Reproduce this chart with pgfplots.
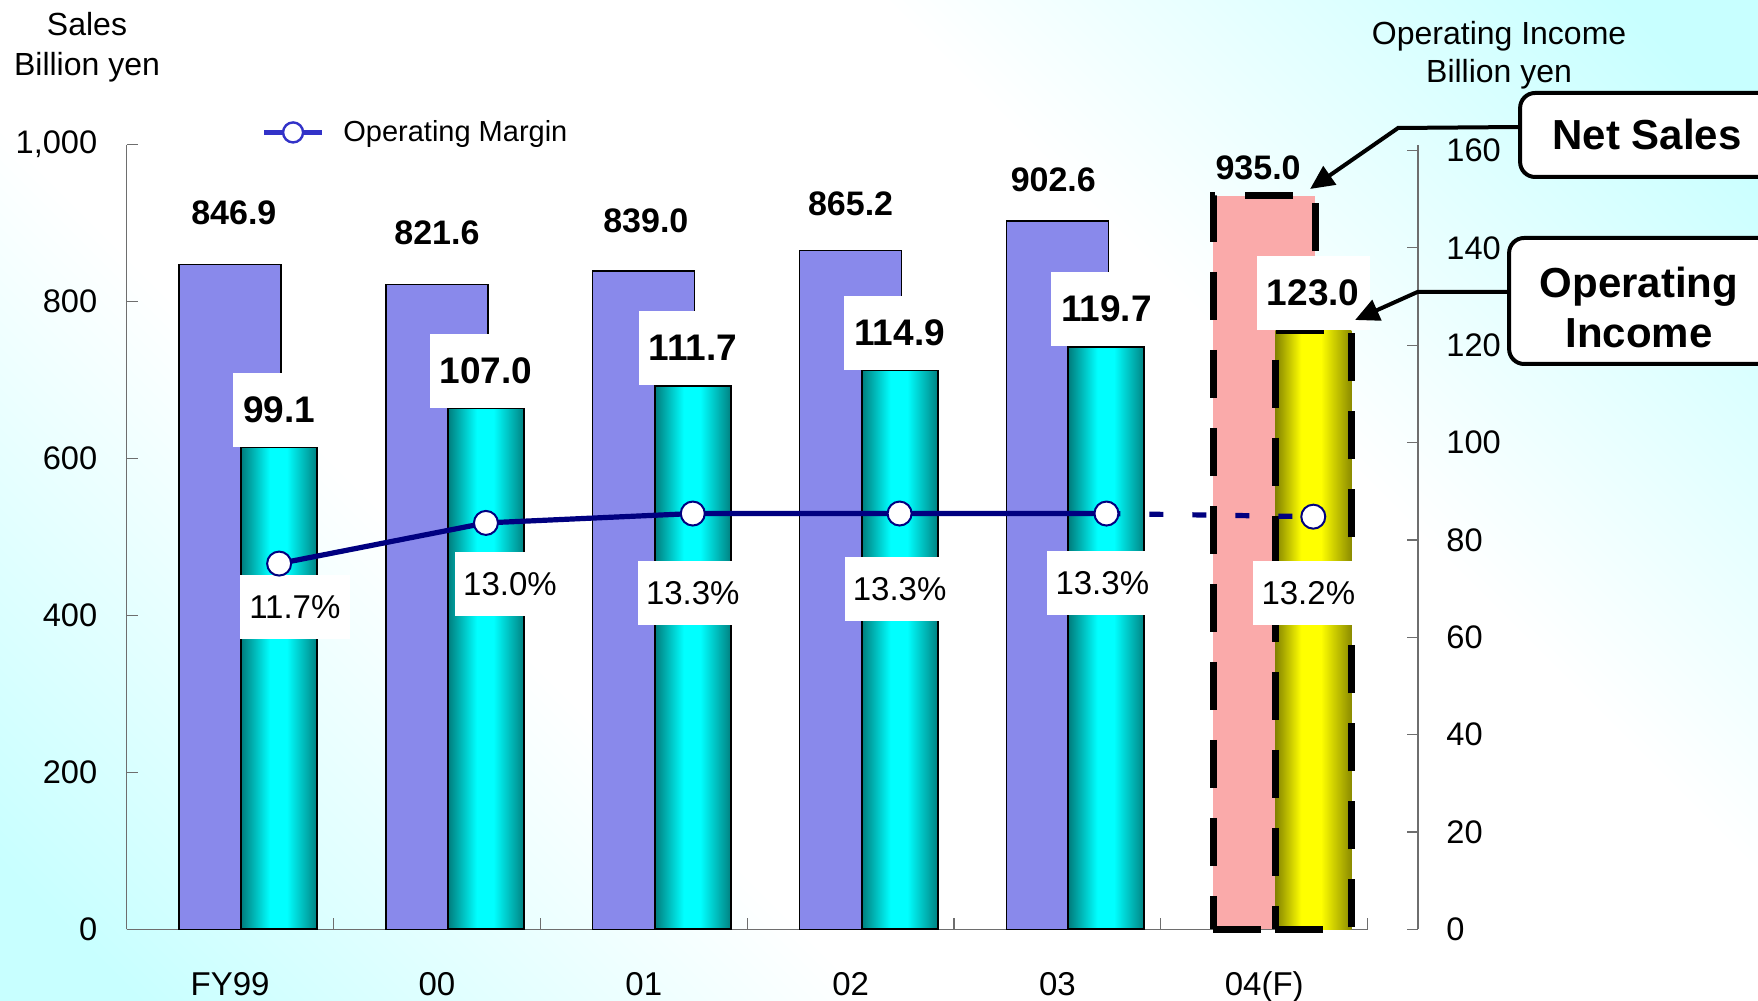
\documentclass[border=0pt]{standalone}
\usepackage{pgfplots}
\pgfplotsset{compat=1.18}
\usepackage{fontspec}
\setmainfont{Liberation Sans}
\usetikzlibrary{arrows.meta}
\definecolor{bgc}{RGB}{200,255,255}
\definecolor{salesfill}{RGB}{137,137,235}
\definecolor{pinkfill}{RGB}{250,170,170}
\definecolor{cyanedgeL}{RGB}{0,125,125}
\definecolor{cyanedgeR}{RGB}{0,130,130}
\definecolor{cyanmid}{RGB}{0,255,255}
\definecolor{yelL}{RGB}{130,130,0}
\definecolor{yelR}{RGB}{140,140,0}
\definecolor{yelmid}{RGB}{255,255,0}
\definecolor{navyline}{RGB}{0,0,128}
\definecolor{legblue}{RGB}{50,50,200}
\definecolor{axisgray}{RGB}{110,110,110}
\pgfdeclareverticalshading{bgshade}{100bp}{color(0bp)=(bgc); color(18bp)=(bgc); color(37bp)=(white); color(63bp)=(white); color(82bp)=(bgc); color(100bp)=(bgc)}
\pgfdeclarehorizontalshading{cyanbar}{100bp}{color(0bp)=(cyanedgeL); color(25bp)=(cyanedgeL); color(44bp)=(cyanmid); color(55bp)=(cyanmid); color(75bp)=(cyanedgeR); color(100bp)=(cyanedgeR)}
\pgfdeclarehorizontalshading{yelbar}{100bp}{color(0bp)=(yelL); color(25bp)=(yelL); color(42bp)=(yelmid); color(55bp)=(yelmid); color(75bp)=(yelR); color(100bp)=(yelR)}
\tikzset{
  saleslab/.style={font=\bfseries\fontsize{17}{20}\selectfont},
  oilab/.style={fill=white, anchor=south, xshift=24.5pt, inner xsep=5pt, inner ysep=0pt, minimum height=37pt, font=\bfseries\fontsize{18.5}{22}\selectfont},
  mlab/.style={fill=white, minimum width=55pt, minimum height=32pt, inner sep=0pt, font=\fontsize{16.5}{19}\selectfont},
}
\pgfplotsset{
  marginleg/.style={legend image code/.code={\draw[mark repeat=2, mark phase=2, ##1, draw=legblue, line width=2.4pt, mark size=5pt,
     mark options={fill=white, draw=legblue, line width=1.2pt, solid}] plot coordinates {(0pt,0pt) (14.35pt,0pt) (28.7pt,0pt)};}},
  oibar/.style={ybar, bar width=38pt, bar shift=24.5pt, draw=black, line width=1pt, shade, shading=cyanbar},
}
\begin{document}
\begin{tikzpicture}
\useasboundingbox (-63.35pt,-35.8pt) rectangle (815.65pt,464.7pt);
\shade[shading=bgshade, shading angle=-45]
  (-63.35pt,-35.8pt) rectangle (815.65pt,464.7pt);

% ---------- Net sales (left axis)
\begin{axis}[
  at={(0pt,0pt)}, anchor=south west,
  width=620.5pt, height=392.4pt, scale only axis,
  xmin=-0.5, xmax=5.5, ymin=0, ymax=1000,
  axis x line*=bottom, axis y line*=left,
  axis line style={draw=axisgray, line width=0.8pt},
  tick align=inside,
  xtick={0,...,5},
  xticklabels={FY99,00,01,02,03,04(F)},
  major x tick style={draw=none},
  minor xtick={-0.5,0.5,...,5.5},
  minor x tick style={draw=axisgray, line width=0.6pt},
  minor tick length=5.5pt,
  major tick length=5.5pt,
  ytick={0,200,...,1000},
  y tick style={draw=axisgray, line width=0.6pt},
  /pgf/number format/assume math mode=true,
  /pgf/number format/1000 sep={,},
  xticklabel style={font=\fontsize{16.5}{19}\selectfont, text height=11.8pt, yshift=-17.6pt},
  yticklabel style={font=\fontsize{16.3}{19}\selectfont, xshift=-11.2pt},
  clip=false,
]
\addplot[ybar, bar width=51pt, fill=salesfill, draw=black, line width=0.7pt]
  coordinates {(0,846.9) (1,821.6) (2,839.0) (3,865.2) (4,902.6)};
\addplot[ybar, bar width=51pt, fill=pinkfill, draw=black, line width=3.5pt, dash pattern=on 24pt off 15pt]
  coordinates {(5,935.0)};
\node[saleslab] at (axis cs:0.018,912.9) {846.9};
\node[saleslab] at (axis cs:1.0,887.0) {821.6};
\node[saleslab] at (axis cs:2.01,902.8) {839.0};
\node[saleslab] at (axis cs:3.0,924.3) {865.2};
\node[saleslab] at (axis cs:3.98,955.7) {902.6};
\node[saleslab] at (axis cs:4.97,970.8) {935.0};
\end{axis}

% ---------- Operating income (right axis)
\begin{axis}[
  at={(0pt,0pt)}, anchor=south west,
  width=620.5pt, height=392.4pt, scale only axis,
  xmin=-0.5, xmax=5.5, ymin=0, ymax=161.2,
  hide x axis,
  axis y line*=right,
  axis y line shift=25.1pt,
  axis line style={draw=axisgray, line width=0.8pt},
  tick align=inside,
  ytick={0,20,...,160},
  major tick length=5.5pt,
  y tick style={draw=axisgray, line width=0.6pt},
  /pgf/number format/assume math mode=true,
  yticklabel style={font=\fontsize{16.3}{19}\selectfont, xshift=10.7pt},
  clip=false,
]
\addplot[oibar] coordinates {(0,99.1)};
\addplot[oibar] coordinates {(1,107.0)};
\addplot[oibar] coordinates {(2,111.7)};
\addplot[oibar] coordinates {(3,114.9)};
\addplot[oibar] coordinates {(4,119.7)};
\addplot[oibar, shading=yelbar, line width=3.5pt, dash pattern=on 24pt off 15pt]
  coordinates {(5,123.0)};
\node[oilab] at (axis cs:0,99.1) {99.1};
\node[oilab] at (axis cs:1,107.0) {107.0};
\node[oilab] at (axis cs:2,111.7) {111.7};
\node[oilab] at (axis cs:3,114.9) {114.9};
\node[oilab] at (axis cs:4,119.7) {119.7};
\node[oilab] at (axis cs:5,123.0) {123.0};
\end{axis}

% ---------- Operating margin (hidden axis, 0-25 %)
\begin{axis}[
  at={(24.5pt,0pt)}, anchor=south west,
  width=620.5pt, height=392.4pt, scale only axis,
  xmin=-0.5, xmax=5.5, ymin=0, ymax=25.1,
  hide axis, clip=false,
  legend style={at={(axis description cs:0.0692,1.0155)}, anchor=west, draw=none, fill=none,
    inner sep=0pt, nodes={inner xsep=9.6pt, inner ysep=2pt},
    font=\fontsize{14.5}{17}\selectfont},
  legend cell align=left,
]
\addplot[navyline, line width=2.6pt, dash pattern=on 7pt off 14.5pt, forget plot]
  coordinates {(4,13.3) (5,13.2)};
\addplot[navyline, line width=2.6pt, mark=*, mark size=6pt,
  mark options={fill=white, draw=navyline, line width=1pt, solid}, marginleg]
  coordinates {(0,11.7) (1,13.0) (2,13.3) (3,13.3) (4,13.3)};
\addlegendentry{Operating Margin}
\addplot[navyline, only marks, mark=*, mark size=6pt,
  mark options={fill=white, draw=navyline, line width=1pt, solid}, forget plot]
  coordinates {(5,13.2)};
\node[mlab] at (axis cs:0.076,10.30) {11.7\%};
\node[mlab] at (axis cs:1.116,11.04) {13.0\%};
\node[mlab] at (axis cs:2.0,10.75) {13.3\%};
\node[mlab] at (axis cs:3.0,10.89) {13.3\%};
\node[mlab] at (axis cs:3.98,11.07) {13.3\%};
\node[mlab] at (axis cs:4.976,10.76) {13.2\%};
\end{axis}

% ---------- titles and callouts
\node[align=center, font=\fontsize{16}{20}\selectfont] at (-19.85pt,441.2pt) {Sales\\Billion yen};
\node[align=center, font=\fontsize{16}{19}\selectfont] at (686.2pt,436.9pt) {Operating Income\\Billion yen};

\draw[line width=2pt, rounded corners=7.5pt, fill=white] (696.7pt,376.2pt) rectangle (850pt,418.2pt);
\node[font=\bfseries\fontsize{21}{25}\selectfont] at (760.2pt,397.7pt) {Net Sales};
\draw[line width=2pt, rounded corners=7.5pt, fill=white] (691.2pt,282.7pt) rectangle (850pt,345.7pt);
\node[align=center, font=\bfseries\fontsize{21}{25.3}\selectfont] at (756.2pt,311pt) {Operating\\Income};
\draw[line width=2pt, -{Triangle[length=12pt,width=11pt]}] (696.7pt,401.2pt) -- (635.7pt,400.7pt) -- (591.7pt,370.2pt);
\draw[line width=2pt, -{Triangle[length=12pt,width=11pt]}] (691.2pt,318.7pt) -- (645.4pt,318.7pt) -- (614.2pt,304.7pt);
\end{tikzpicture}
\end{document}
